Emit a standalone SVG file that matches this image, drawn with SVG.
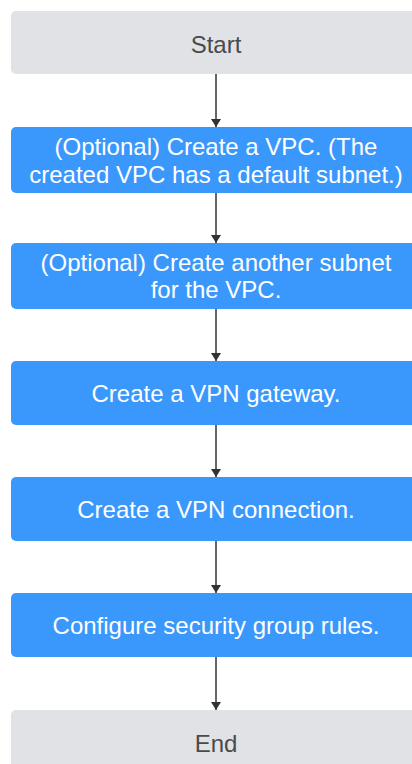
<svg xmlns="http://www.w3.org/2000/svg" width="412" height="764" viewBox="0 0 412 764">
<style>
.term rect{fill:#e0e2e6}
.step rect{fill:#3a98fc}
text{font-family:"Liberation Sans",Arial,sans-serif;font-size:24px;text-anchor:middle}
.term text{fill:#4a4a4a}
.step text{fill:#ffffff}
.conn line{stroke:#333333;stroke-width:1.5}
</style>
<defs>
<marker id="ah" viewBox="0 0 8 10" refX="8" refY="5" markerWidth="8" markerHeight="10" markerUnits="userSpaceOnUse" orient="auto">
<path d="M0,0 L8,5 L0,10 Z" fill="#333333"/>
</marker>
</defs>
<g id="start" class="term"><rect x="11" y="11" width="410" height="63" rx="5"/><text x="216" y="53">Start</text></g>
<g id="step1" class="step"><rect x="11" y="127" width="410" height="66" rx="5"/><text x="216" y="155">(Optional) Create a VPC. (The</text><text x="216" y="183">created VPC has a default subnet.)</text></g>
<g id="step2" class="step"><rect x="11" y="243" width="410" height="66" rx="5"/><text x="216" y="271">(Optional) Create another subnet</text><text x="216" y="298">for the VPC.</text></g>
<g id="step3" class="step"><rect x="11" y="361" width="410" height="64" rx="5"/><text x="216" y="402">Create a VPN gateway.</text></g>
<g id="step4" class="step"><rect x="11" y="477" width="410" height="64" rx="5"/><text x="216" y="518">Create a VPN connection.</text></g>
<g id="step5" class="step"><rect x="11" y="593" width="410" height="64" rx="5"/><text x="216" y="634">Configure security group rules.</text></g>
<g id="end" class="term"><rect x="11" y="710" width="410" height="64" rx="5"/><text x="216" y="752">End</text></g>
<g id="connectors" class="conn">
<line x1="216" y1="74" x2="216" y2="127" marker-end="url(#ah)"/>
<line x1="216" y1="193" x2="216" y2="243" marker-end="url(#ah)"/>
<line x1="216" y1="309" x2="216" y2="361" marker-end="url(#ah)"/>
<line x1="216" y1="425" x2="216" y2="477" marker-end="url(#ah)"/>
<line x1="216" y1="541" x2="216" y2="593" marker-end="url(#ah)"/>
<line x1="216" y1="657" x2="216" y2="710" marker-end="url(#ah)"/>
</g>
</svg>
